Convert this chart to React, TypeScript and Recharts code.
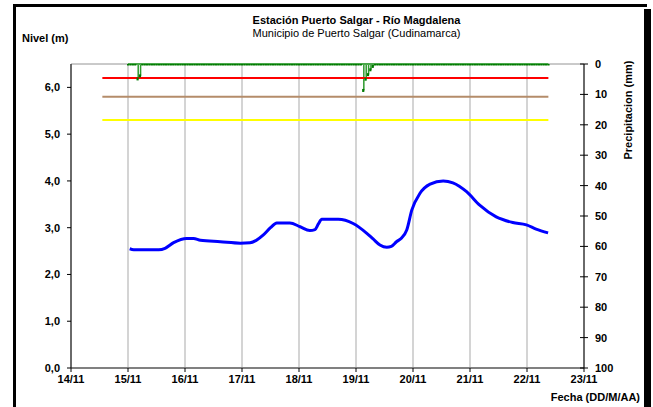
import React from 'react';
import {
  ComposedChart, Line, Bar, XAxis, YAxis, CartesianGrid, ReferenceLine,
} from 'recharts';

// ---- data ----
const dayTicks = [14, 15, 16, 17, 18, 19, 20, 21, 22, 23];
const dayLabels = ['14/11', '15/11', '16/11', '17/11', '18/11', '19/11', '20/11', '21/11', '22/11', '23/11'];

const levelDays = [
  15.03, 15.10, 15.54, 15.65, 15.80, 16.03, 16.15, 16.27, 16.62, 16.97, 17.14, 17.25, 17.37, 17.50,
  17.61, 17.84, 18.02, 18.19, 18.28, 18.34, 18.40, 18.69, 18.95, 19.19, 19.30, 19.42, 19.54, 19.62,
  19.71, 19.80, 19.89, 19.98, 20.12, 20.30, 20.53, 20.70, 20.94, 21.17, 21.46, 21.75, 21.99, 22.16, 22.37,
];
const levelValues = [
  2.55, 2.53, 2.53, 2.56, 2.68, 2.77, 2.77, 2.73, 2.70, 2.67, 2.68, 2.73, 2.84, 3.00,
  3.10, 3.10, 3.02, 2.94, 2.96, 3.08, 3.18, 3.18, 3.09, 2.88, 2.76, 2.63, 2.58, 2.60,
  2.70, 2.78, 2.95, 3.38, 3.73, 3.93, 4.00, 3.96, 3.77, 3.48, 3.23, 3.11, 3.06, 2.97, 2.89,
];

// hourly precipitation from 15/11 00:00 to 22/11 09:00 (zero except the events below)
const precipStartDay = 15;
const precipEndDay = 22.375;
const precipHourCount = 178;
const precipEventHours = [4, 5, 99, 100, 101, 102, 103];
const precipEventMm = [4.9, 3.9, 8.7, 5.0, 3.5, 1.9, 0.8];

// alert thresholds (m) and their span
const thresholdValues = [6.2, 5.8, 5.3];
const thresholdColors = ['#ff0000', '#b48c6a', '#ffff00'];
const thresholdStart = 14.55;
const thresholdEnd = 22.375;

const levelTicks = [0, 1, 2, 3, 4, 5, 6];
const precipTicks = [0, 10, 20, 30, 40, 50, 60, 70, 80, 90, 100];

// ---- tables ----
const levelData = levelDays.map((d, i) => ({ x: d, level: levelValues[i] }));
const precipData = Array.from({ length: precipHourCount }, (_, h) => {
  const k = precipEventHours.indexOf(h);
  return { x: precipStartDay + h / 24, precip: k >= 0 ? precipEventMm[k] : 0 };
});

const FONT = '"Liberation Sans", Arial, sans-serif';

const LeftTick = (p: any) => (
  <text x={p.x} y={p.y} dy={4} textAnchor="end" fontFamily={FONT} fontSize={11} fontWeight="bold" fill="#000">
    {p.payload.value.toFixed(1).replace('.', ',')}
  </text>
);

const RightTick = (p: any) => (
  <g>
    <line x1={p.x - 15} x2={p.x - 7} y1={p.y} y2={p.y} stroke="#000" strokeWidth={1} />
    <text x={p.x} y={p.y} dy={4} textAnchor="start" fontFamily={FONT} fontSize={11} fontWeight="bold" fill="#000">
      {p.payload.value}
    </text>
  </g>
);

const BottomTick = (p: any) => {
  const i = dayTicks.indexOf(p.payload.value);
  return (
    <text x={p.x} y={p.y} dy={9} textAnchor="middle" fontFamily={FONT} fontSize={11} fontWeight="bold" fill="#000">
      {dayLabels[i]}
    </text>
  );
};

const SquareDot = (p: any) => {
  if (p.cx == null || p.cy == null) return null;
  return <rect key={p.index} x={p.cx - 1} y={p.cy - 1.5} width={2.2} height={3} fill="#007a00" />;
};

const BarShape = (p: any) => {
  const { x, y, width, height } = p;
  if (x == null || y == null || !height) return null;
  const top = Math.min(y, y + height);
  const h = Math.abs(height);
  return <rect x={x} y={top} width={Math.max(width, 1.5)} height={h} fill="#2e9a2e" />;
};

export default function App() {
  return (
    <div style={{ position: 'absolute', left: 0, top: 0, width: 653, height: 407, background: '#fff', overflow: 'hidden' }}>
      {/* frame */}
      <div style={{ position: 'absolute', left: 13, top: 4, width: 3, height: 403, background: '#000' }} />
      <div style={{ position: 'absolute', left: 13, top: 4, width: 634, height: 3, background: '#000' }} />
      <div style={{ position: 'absolute', left: 644, top: 9, width: 7, height: 398, background: '#000' }} />

      <ComposedChart
        width={653}
        height={407}
        data={precipData}
        margin={{ top: 64, right: 39, left: 41, bottom: 9 }}
        style={{ position: 'absolute', left: 0, top: 0 }}
      >
        <CartesianGrid vertical={true} horizontal={false} stroke="#d4d4d4" strokeWidth={2} />
        <CartesianGrid vertical={false} horizontal={true} stroke="#b8b8b8" strokeWidth={1} />
        <XAxis
          dataKey="x"
          type="number"
          domain={[14, 23]}
          ticks={dayTicks}
          allowDataOverflow
          height={30}
          tickSize={4}
          tickMargin={2}
          tick={<BottomTick />}
          axisLine={{ stroke: '#808080', strokeWidth: 2 }}
          tickLine={{ stroke: '#000' }}
        />
        <YAxis
          yAxisId="left"
          type="number"
          domain={[0, 6.5]}
          ticks={levelTicks}
          allowDataOverflow
          width={30}
          tickSize={4}
          tickMargin={7}
          tick={<LeftTick />}
          axisLine={{ stroke: '#000' }}
          tickLine={{ stroke: '#000' }}
        />
        <YAxis
          yAxisId="right"
          orientation="right"
          type="number"
          domain={[0, 100]}
          reversed
          ticks={precipTicks}
          allowDataOverflow
          width={30}
          tickSize={4}
          tickMargin={7}
          tick={<RightTick />}
          axisLine={{ stroke: '#000' }}
          tickLine={false}
        />
        <ReferenceLine yAxisId="left" y={6.5} stroke="#b8b8b8" strokeWidth={1} />
        {thresholdValues.map((v, i) => (
          <ReferenceLine
            key={i}
            yAxisId="left"
            segment={[{ x: thresholdStart, y: v }, { x: thresholdEnd, y: v }]}
            stroke={thresholdColors[i]}
            strokeWidth={2}
          />
        ))}
        <ReferenceLine
          yAxisId="right"
          segment={[{ x: precipStartDay, y: 0 }, { x: precipEndDay, y: 0 }]}
          stroke="#4aa84a"
          strokeWidth={2}
        />
        <Bar yAxisId="right" dataKey="precip" barSize={2} fill="#2e9a2e" shape={<BarShape />} isAnimationActive={false} />
        <Line
          yAxisId="right"
          dataKey="precip"
          type="linear"
          stroke="none"
          dot={<SquareDot />}
          activeDot={false}
          isAnimationActive={false}
        />
        <Line
          yAxisId="left"
          data={levelData}
          dataKey="level"
          type="monotone"
          stroke="#0000ff"
          strokeWidth={3}
          dot={false}
          activeDot={false}
          isAnimationActive={false}
        />
      </ComposedChart>

      {/* titles */}
      <div style={{ position: 'absolute', left: 0, width: 653, top: 14, textAlign: 'center', fontFamily: FONT, fontSize: 11, lineHeight: '13px', color: '#000' }}>
        <div style={{ position: 'relative', left: 30, fontWeight: 'bold' }}>Estación Puerto Salgar - Río Magdalena</div>
        <div style={{ position: 'relative', left: 30 }}>Municipio de Puerto Salgar (Cudinamarca)</div>
      </div>
      <div style={{ position: 'absolute', left: 22, top: 32, fontFamily: FONT, fontSize: 11, fontWeight: 'bold', lineHeight: '13px' }}>Nivel (m)</div>
      <div style={{ position: 'absolute', right: 13, top: 391, fontFamily: FONT, fontSize: 11, fontWeight: 'bold', lineHeight: '13px' }}>Fecha (DD/M/AA)</div>
      <div style={{
        position: 'absolute', left: 628, top: 110, fontFamily: FONT, fontSize: 11, fontWeight: 'bold', lineHeight: '13px',
        whiteSpace: 'nowrap', transform: 'translate(-50%, -50%) rotate(-90deg)',
      }}>Precipitacion (mm)</div>
    </div>
  );
}
